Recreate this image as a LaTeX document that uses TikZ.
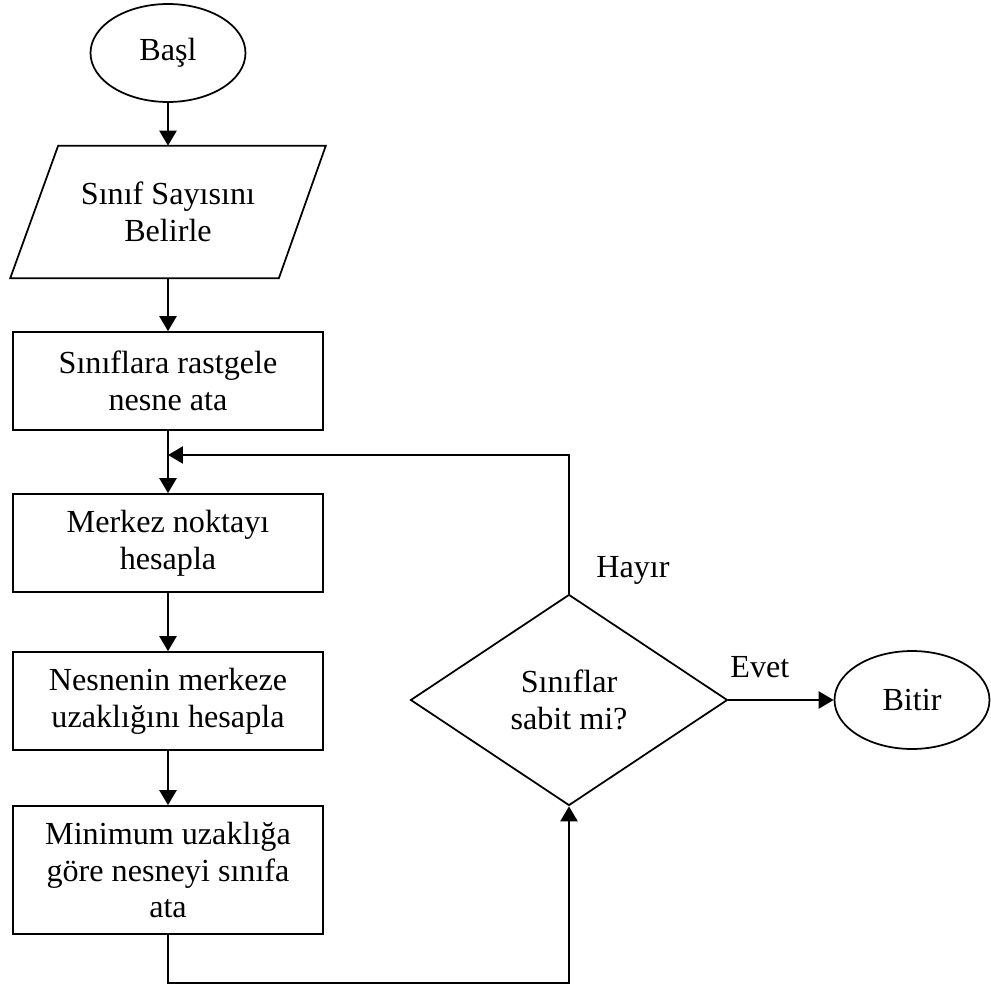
\documentclass[tikz,border=0pt]{standalone}
\usepackage{fontspec}
\setmainfont{Liberation Serif}
\usetikzlibrary{shapes.geometric,arrows.meta}

\begin{document}
\begin{tikzpicture}[x=0.02cm,y=-0.02cm,
	every node/.style={font=\fontsize{18.3}{21}\selectfont},
	term/.style={draw,ellipse,line width=0.035cm,minimum width=3.1cm,minimum height=1.96cm,inner sep=0},
	io/.style={rectangle,minimum width=6.3cm,minimum height=2.64cm,align=center,inner sep=0},
	proc/.style={draw,rectangle,line width=0.035cm,minimum width=6.2cm,minimum height=1.96cm,align=center,inner sep=0},
	decide/.style={draw,diamond,line width=0.035cm,minimum width=6.34cm,minimum height=4.22cm,align=center,inner sep=0},
	arr/.style={-{Triangle[length=0.3cm,width=0.34cm]},line width=0.05cm}]
	\useasboundingbox (0,0) rectangle (991,990);
	% akis
		\node[term] (basla) at (168,53) {Başl};
		\node[io] (sayi) at (168,212) {Sınıf Sayısını\\Belirle};
		\draw[line width=0.035cm,line join=miter] (sayi.south west) -- ([xshift=0.96cm]sayi.north west)
			-- (sayi.north east) -- ([xshift=-0.94cm]sayi.south east) -- cycle;
		\node[proc] (ata) at (168,381) {Sınıflara rastgele\\nesne ata};
		\node[proc] (merkez) at (168,543) {Merkez noktayı\\hesapla};
		\node[proc] (uzak) at (168,701) {Nesnenin merkeze\\uzaklığını hesapla};
		\node[proc,minimum height=2.56cm] (sinifa) at (168,870) {Minimum uzaklığa\\göre nesneyi sınıfa\\ata};
		\node[decide] (sabit) at (569,700) {Sınıflar\\sabit mi?};
		\node[term] (bitir) at (912,700) {Bitir};
		\node (hayir) at (633,570) {Hayır};
		\coordinate (donus) at (168,455);
		\coordinate (alt) at (569,983);
	% oklar
		\draw[arr] (basla) -- (sayi);
		\draw[arr] (sayi) -- (ata);
		\draw[arr] (ata) -- (merkez);
		\draw[arr] (merkez) -- (uzak);
		\draw[arr] (uzak) -- (sinifa);
		\draw[arr] (sinifa.south) |- (alt) -- (sabit.south);
		\draw[arr] (sabit.north) |- (donus);
		\draw[arr] (sabit.east) -- node[pos=0.3,yshift=0.66cm]{Evet} (bitir.west);
\end{tikzpicture}
\end{document}
